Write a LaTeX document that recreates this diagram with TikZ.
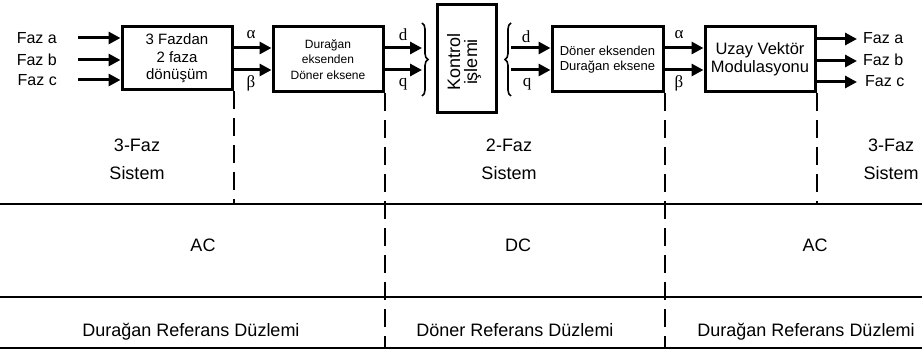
\documentclass[tikz,border=0pt]{standalone}
\usepackage{fontspec}
\setmainfont{Liberation Sans}
\newfontfamily\grk{Liberation Serif}
\usetikzlibrary{arrows.meta,decorations.pathreplacing}
\begin{document}
\begin{tikzpicture}[x=1pt,y=-1pt,
  blk/.style={draw,line width=3pt,inner sep=0pt,align=center},
  arr/.style={line width=3pt,-{Triangle[length=12pt,width=12pt]}},
  sepline/.style={line width=2pt,dash pattern=on 18pt off 9pt},
  hline/.style={line width=2pt},
  lbl/.style={font=\fontsize{16}{18}\selectfont,inner sep=0pt},
  sym/.style={font=\grk\fontsize{17}{18}\selectfont,inner sep=0pt},
  sub/.style={font=\fontsize{18}{22}\selectfont,inner sep=0pt,anchor=base},
  brc/.style={line width=1.6pt,decorate,decoration={brace,amplitude=6pt}},
]
\useasboundingbox (0,0) rectangle (922,352);

% blocks
\node[blk,minimum width=110pt,minimum height=63pt,font=\fontsize{15}{17.5}\selectfont] (b1) at (177,58.5) {3 Fazdan\\2 faza\\dönüşüm};
\node[blk,minimum width=110pt,minimum height=65pt,font=\fontsize{12}{15.5}\selectfont] (b2) at (328,59.5) {Durağan\\eksenden\\Döner eksene};
\node[blk,minimum width=59pt,minimum height=108pt,font=\fontsize{18}{17}\selectfont] (k) at (466.5,59) {};
\node[rotate=90,align=center,inner sep=0pt,font=\fontsize{18}{17}\selectfont] (kt) at (464,62) {Kontrol\\işlemi};
\node[blk,minimum width=111pt,minimum height=65pt,font=\fontsize{13}{15}\selectfont] (b3) at (607.5,59.5) {Döner eksenden\\Durağan eksene};
\node[blk,minimum width=110pt,minimum height=65pt,font=\fontsize{16.5}{18}\selectfont] (b4) at (760,59.5) {Uzay Vektör\\Modulasyonu};

% input labels and arrows
\node[lbl,anchor=east] (fa) at (57,38) {Faz a};
\node[lbl,anchor=east] (fb) at (57,60) {Faz b};
\node[lbl,anchor=east] (fc) at (57,80) {Faz c};
\coordinate (ia) at (78,38);
\coordinate (ib) at (78,60);
\coordinate (ic) at (78,80);
\draw[arr] (ia) -- (b1.west |- ia);
\draw[arr] (ib) -- (b1.west |- ib);
\draw[arr] (ic) -- (b1.west |- ic);

% alpha beta rows
\coordinate (yal) at (0,48);
\coordinate (ybe) at (0,70);
\draw[arr] (b1.east |- yal) -- (b2.west |- yal);
\draw[arr] (b1.east |- ybe) -- (b2.west |- ybe);
\node[sym] (al1) at (251,35) {α};
\node[sym] (be1) at (251,83) {β};

% braces
\coordinate (br1t) at (422,23);
\coordinate (br1b) at (422,96);
\coordinate (br2t) at (511,23);
\coordinate (br2b) at (511,96);
\draw[brc] (br1t) -- (br1b);
\draw[brc] (br2b) -- (br2t);

\draw[arr] (b2.east |- yal) -- (br1t |- yal);
\draw[arr] (b2.east |- ybe) -- (br1t |- ybe);
\node[sym] (d1) at (403,35) {d};
\node[sym] (q1) at (403,84) {q};

\draw[arr] (br2t |- yal) -- (b3.west |- yal);
\draw[arr] (br2t |- ybe) -- (b3.west |- ybe);
\node[sym] (d2) at (526,37) {d};
\node[sym] (q2) at (527,84) {q};

\draw[arr] (b3.east |- yal) -- (b4.west |- yal);
\draw[arr] (b3.east |- ybe) -- (b4.west |- ybe);
\node[sym] (al2) at (679,35) {α};
\node[sym] (be2) at (679,83) {β};

% outputs
\coordinate (oa) at (857,39);
\coordinate (ob) at (857,61);
\coordinate (oc) at (857,82);
\draw[arr] (b4.east |- oa) -- (oa);
\draw[arr] (b4.east |- ob) -- (ob);
\draw[arr] (b4.east |- oc) -- (oc);
\node[lbl,anchor=west] (ga) at (863,38) {Faz a};
\node[lbl,anchor=west] (gb) at (863,60) {Faz b};
\node[lbl,anchor=west] (gc) at (865,81) {Faz c};

% horizontal lines
\coordinate (h1l) at (0,204);
\coordinate (h1r) at (922,204);
\coordinate (h2l) at (0,297);
\coordinate (h2r) at (922,297);
\coordinate (h3l) at (0,348);
\coordinate (h3r) at (922,348);
\draw[hline] (h1l) -- (h1r);
\draw[hline] (h2l) -- (h2r);
\draw[hline] (h3l) -- (h3r);

% dashed separators
\draw[sepline] (b1.south east) -- (b1.south east |- h1l);
\draw[sepline] (b2.south east) -- (b2.south east |- h3l);
\draw[sepline] (b3.south east) -- (b3.south east |- h3l);
\draw[sepline] (b4.south east) -- (b4.south east |- h1l);

% row texts
\node[sub] (s1a) at (137,152) {3-Faz};
\node[sub] (s1b) at (137,180) {Sistem};
\node[sub] (s2a) at (509,152) {2-Faz};
\node[sub] (s2b) at (509,180) {Sistem};
\node[sub] (s3a) at (891,152) {3-Faz};
\node[sub] (s3b) at (891,180) {Sistem};
\node[sub] (ac1) at (203,252) {AC};
\node[sub] (dc) at (518,252) {DC};
\node[sub] (ac2) at (815,252) {AC};
\node[sub] (r1) at (191,337) {Durağan Referans Düzlemi};
\node[sub] (r2) at (515,337) {Döner Referans Düzlemi};
\node[sub] (r3) at (806,337) {Durağan Referans Düzlemi};
\end{tikzpicture}
\end{document}
